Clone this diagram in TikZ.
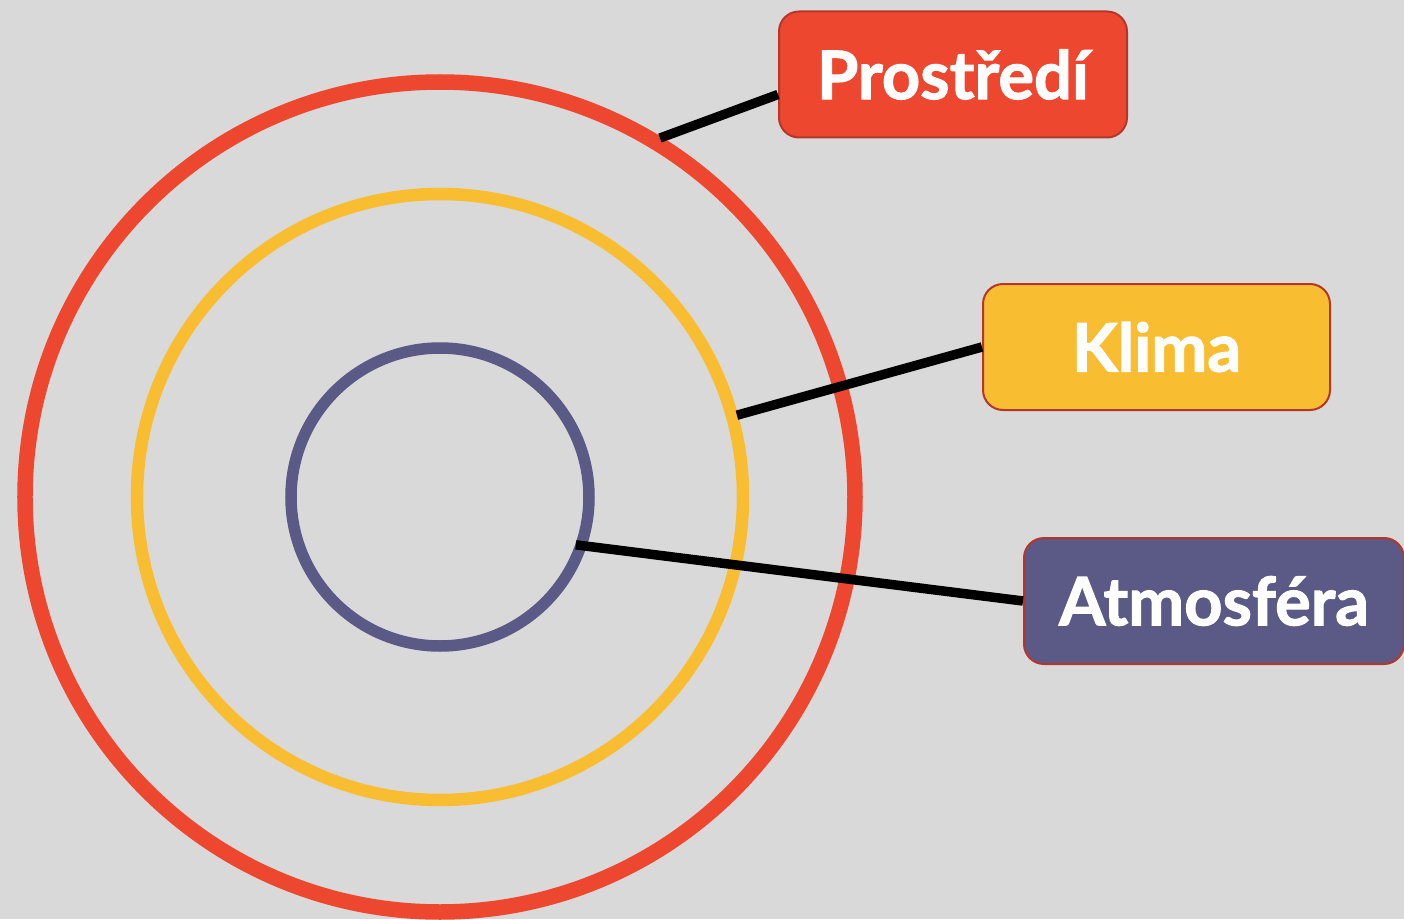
\documentclass[tikz,border=0pt]{standalone}
\usepackage{fontspec}
\setmainfont{Lato}[BoldFeatures={FakeBold=1.6}]
\usepackage{tikz}
\usetikzlibrary{calc}
\definecolor{bgray}{HTML}{D9D9D9}
\definecolor{cred}{HTML}{EE4730}
\definecolor{cyellow}{HTML}{F9BD31}
\definecolor{cpurple}{HTML}{5B5A87}
\definecolor{cborder}{HTML}{B5372A}
\tikzset{
    label box/.style={draw=cborder,line width=0.04cm,rounded corners=0.4cm,minimum height=2.52cm,text=white,font=\fontsize{38}{42}\selectfont\bfseries},
    link/.style={line width=0.19cm}
}

\begin{document}
\begin{tikzpicture}
    \fill[bgray] (-8.8,-8.44) rectangle (19.28,9.94);
    \useasboundingbox (-8.8,-8.44) rectangle (19.28,9.94);

    \coordinate (O) at (0,0);

    \draw[cred,line width=0.31cm] (O) circle (8.3);
    \draw[cyellow,line width=0.25cm] (O) circle (6.06);
    \draw[cpurple,line width=0.23cm] (O) circle (2.98);

    \node[label box,fill=cred,minimum width=6.96cm] (prost) at (10.26,8.45) {Prostředí};
    \node[label box,fill=cyellow,minimum width=6.94cm] (klima) at (14.33,3.0) {Klima};
    \node[label box,fill=cpurple,minimum width=7.6cm] (atmo) at (15.48,-2.08) {Atmosféra};

    \coordinate (R) at (58.5:8.42);
    \coordinate (Y) at (15.4:6.16);
    \coordinate (P) at (-19.4:2.88);

    \draw[link] (R)--($(prost.west)+(0,-0.4)$);
    \draw[link] (Y)--(klima.west);
    \draw[link] (P)--(atmo.west);
\end{tikzpicture}
\end{document}
